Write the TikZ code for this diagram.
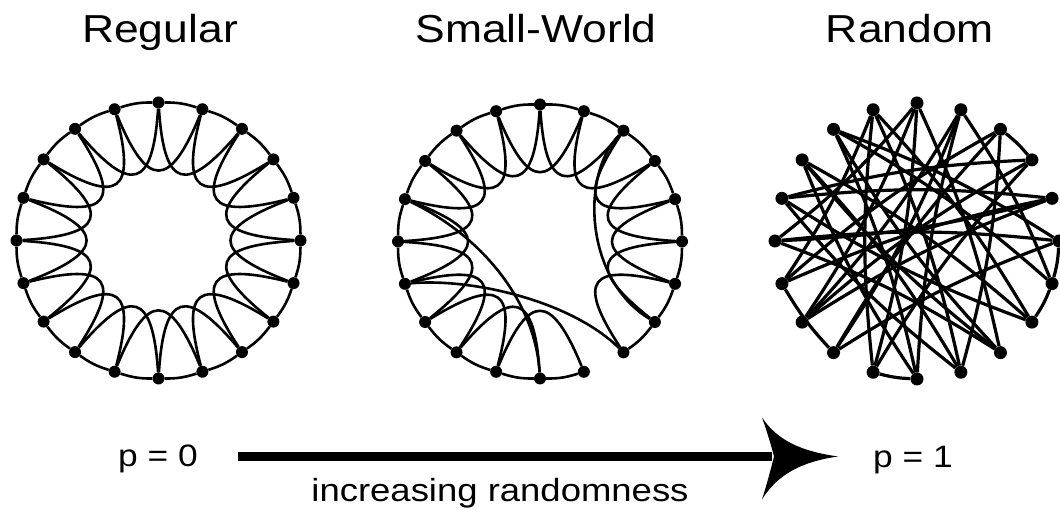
\documentclass[tikz,border=0pt]{standalone}
\usepackage{fontspec}
\setmainfont{Liberation Sans}[FakeStretch=1.14]
\usetikzlibrary{calc}
\tikzset{
  vdot/.style={circle,fill=black,inner sep=0pt,minimum size=12pt},
  rdot/.style={circle,fill=black,inner sep=0pt,minimum size=13pt},
  ring/.style={line width=2.6pt},
  rnd/.style={line width=3.2pt},
  title/.style={font=\fontsize{39}{44}\selectfont, anchor=base, inner sep=0pt},
  lab/.style={font=\fontsize{31}{36}\selectfont, anchor=base west, inner sep=0pt},
  sub/.style={font=\fontsize{32}{36}\selectfont, anchor=base, inner sep=0pt},
}
\begin{document}
\begin{tikzpicture}[x=1pt,y=1pt]
\useasboundingbox (0,0) rectangle (1060,510);
% titles
\node[title] (tR) at (160,467) {Regular};
\node[title] (tS) at (536,467) {Small-World};
\node[title] (tD) at (910,467) {Random};
% Regular ring
\begin{scope}[shift={(158.5,269.5)}]
  \foreach \k in {0,...,19} \node[vdot] (r\k) at ({90-18*\k}:142 and 138) {};
  \foreach \k in {0,...,19}{
    \pgfmathtruncatemacro{\n}{mod(\k+1,20)}
    \pgfmathtruncatemacro{\m}{mod(\k+2,20)}
    \draw[ring] (r\k) to[bend left=9] (r\n);
    \draw[ring] (r\k) .. controls ({90-18*\k-6}:54 and 52.5) and ({90-18*\k-30}:54 and 52.5) .. (r\m);
  }
\end{scope}
% Small-world ring
\begin{scope}[shift={(540,268.5)}]
  \foreach \k in {0,...,19} \node[vdot] (s\k) at ({90-18*\k}:142 and 137) {};
  \foreach \k in {0,...,19}{
    \pgfmathtruncatemacro{\n}{mod(\k+1,20)}
    \pgfmathtruncatemacro{\m}{mod(\k+2,20)}
    \ifnum\k=8\else\draw[ring] (s\k) to[bend left=9] (s\n);\fi
    \ifnum\k=7\else\ifnum\k=8\else
    \draw[ring] (s\k) .. controls ({90-18*\k-6}:54 and 52) and ({90-18*\k-30}:54 and 52) .. (s\m);
    \fi\fi
  }
\end{scope}
\draw[ring] (s16) .. controls (480,275) and (535,210) .. (s10);
\draw[ring] (s14) .. controls (470,232) and (570,210) .. (s8);
\draw[ring] (s2) .. controls (580,335) and (585,230) .. (s7);
% Random
\begin{scope}[shift={(917,269)}]
  \foreach \k in {0,...,19} \node[rdot] (q\k) at ({90-18*\k}:142 and 138) {};
\end{scope}
\foreach \a/\b in {2/3,10/11,5/6,6/7,18/6,17/7,16/4,15/5,14/4,13/3,12/2,19/9,1/12,8/17,0/11,0/8,19/7,1/13,18/5,16/3,15/8,14/2,10/1,11/3,9/16,12/5,13/4,17/9,18/10,19/14,0/15,1/6,2/9,0/13,4/15,7/16,8/18,10/17,11/19,12/14}
  \draw[rnd] (q\a) to[bend left=6] (q\b);
% bottom
\node[lab] (p0) at (118,43) {p = 0};
\node[lab] (p1) at (873,42) {p = 1};
\node[sub] (inc) at (500,8) {increasing randomness};
\coordinate (as) at (238,53.5);
\coordinate (ae) at (838,53.5);
\draw[line width=9pt, shorten >=66pt] (as) -- (ae);
\begin{scope}[shift={(ae)}]
  \fill (0,0) .. controls (-35,5) and (-60,15) .. (-76,39)
        .. controls (-70,22) and (-66,8) .. (-64,0)
        .. controls (-66,-8) and (-70,-24) .. (-76,-43)
        .. controls (-60,-17) and (-35,-5) .. (0,0) -- cycle;
\end{scope}
\end{tikzpicture}
\end{document}
